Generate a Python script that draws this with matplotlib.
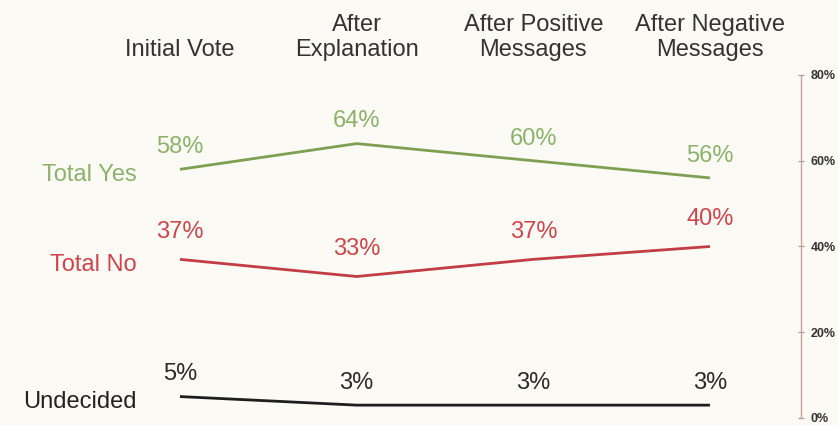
import matplotlib
matplotlib.use("Agg")
import matplotlib.pyplot as plt
import matplotlib.transforms as mtransforms

categories = ["Initial Vote", "After\nExplanation", "After Positive\nMessages", "After Negative\nMessages"]
series_names = ["Total Yes", "Total No", "Undecided"]
total_yes = [58, 64, 60, 56]
total_no = [37, 33, 37, 40]
undecided = [5, 3, 3, 3]
yticks = [0, 20, 40, 60, 80]
ytick_labels = ["0%", "20%", "40%", "60%", "80%"]

W, H = 838, 425
fig = plt.figure(figsize=(W / 100, H / 100), dpi=100)
fig.patch.set_facecolor("#fbfaf5")

left_px, right_px = 0, 801
bottom_px, top_px = 418, 75
ax = fig.add_axes([left_px / W, (H - bottom_px) / H, (right_px - left_px) / W, (bottom_px - top_px) / H])
ax.set_facecolor("none")

step = 176.7
x0 = 180
ax.set_xlim((left_px - x0) / step, 3 + (right_px - 710) / step)
ax.set_ylim(0, 80)

xs = list(range(len(categories)))
font = "Liberation Sans"

styles = [
    (total_yes, "#7f9f52", "#8cb26a", 16),
    (total_no, "#c23d44", "#cf454b", 20),
    (undecided, "#1e1e1e", "#2a2a2a", 16),
]

for name, (vals, lc, tc, off) in zip(series_names, styles):
    ax.plot(xs, vals, color=lc, lw=2.0, solid_capstyle="butt", clip_on=False)
    for x, v in zip(xs, vals):
        ax.annotate(f"{v}%", (x, v), xytext=(0, off), textcoords="offset points",
                    ha="center", va="center", fontsize=17, color=tc, family=font)
    ax.annotate(name, (0, vals[0]), xytext=(-43 / 1.389, -4), textcoords="offset points",
                ha="right", va="center", fontsize=17,
                color=tc if name != "Undecided" else "#222222", family=font)

# Column headers
trans = mtransforms.blended_transform_factory(ax.transData, fig.transFigure)
for x, c in zip(xs, categories):
    ax.text(x, 1 - 56 / H, c, transform=trans, ha="center", va="baseline",
            fontsize=17, color="#333333", family=font, linespacing=1.2)

# Axes styling
for s in ["left", "top", "bottom"]:
    ax.spines[s].set_visible(False)
ax.spines["right"].set_color("#c9a3a3")
ax.spines["right"].set_linewidth(1.0)
ax.spines["right"].set_linestyle((0, (1, 1)))
ax.set_xticks([])
ax.yaxis.tick_right()
ax.set_yticks(yticks)
ax.set_yticklabels(ytick_labels, family=font, fontsize=9, fontweight="bold", color="#333333")
ax.tick_params(axis="y", direction="inout", length=4, width=0.8, color="#999999", pad=5)

fig.savefig("out.png", dpi=100, facecolor=fig.get_facecolor())
